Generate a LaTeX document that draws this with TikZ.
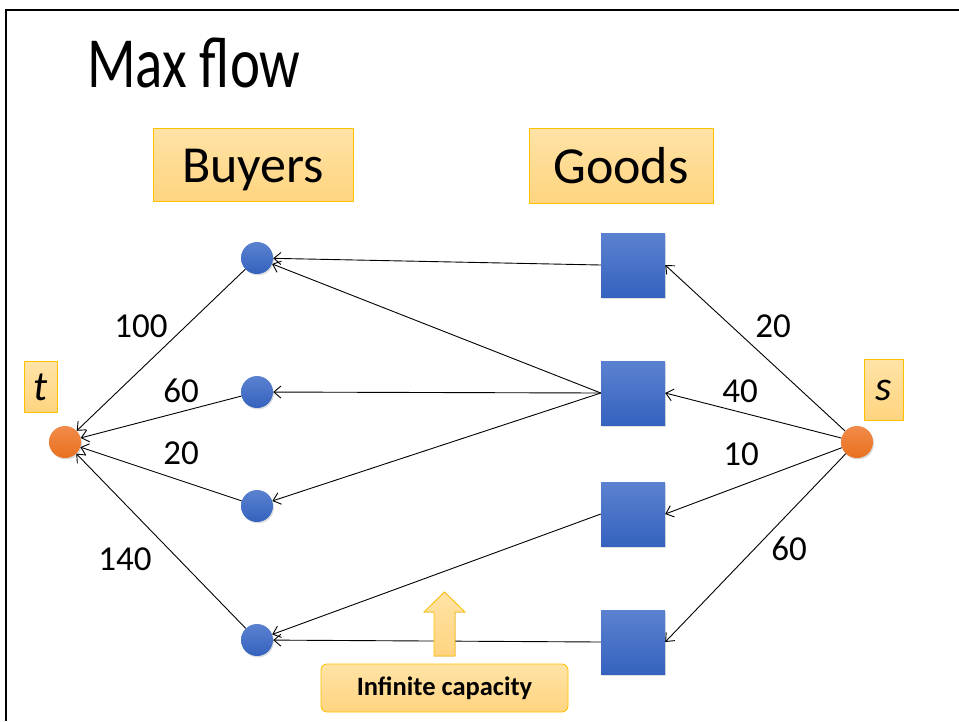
\documentclass[tikz,border=0pt]{standalone}
\usepackage{fontspec}
\setmainfont{Carlito}
\usetikzlibrary{arrows.meta,shadows,shapes.arrows}
\definecolor{boxfillA}{HTML}{FFE3A6}
\definecolor{boxfillB}{HTML}{FFD47F}
\definecolor{boxline}{HTML}{FFC000}
\definecolor{blueA}{HTML}{5B82D0}
\definecolor{blueB}{HTML}{3562BE}
\definecolor{orangeA}{HTML}{F28A4A}
\definecolor{orangeB}{HTML}{E8711F}
\tikzset{
  lbl/.style={draw=boxline, line width=0.8pt, top color=boxfillA, bottom color=boxfillB, inner sep=0pt},
  buyer/.style={circle, minimum size=32pt, inner sep=0pt, top color=blueA, bottom color=blueB,
    drop shadow={opacity=0.25, shadow xshift=1pt, shadow yshift=-1.5pt}},
  good/.style={rectangle, minimum size=64pt, inner sep=0pt, top color=blueA, bottom color=blueB,
    drop shadow={opacity=0.25, shadow xshift=1pt, shadow yshift=-1.5pt}},
  term/.style={circle, minimum size=32pt, inner sep=0pt, top color=orangeA, bottom color=orangeB,
    drop shadow={opacity=0.3, shadow xshift=1pt, shadow yshift=-1.5pt}},
  edge/.style={line width=0.9pt, -{Straight Barb[length=7pt,width=12pt,line width=0.9pt]}},
  num/.style={font=\fontsize{35}{38}\selectfont, inner sep=0pt},
  head/.style={lbl, text height=34pt, text depth=0pt},
}
\begin{document}
\begin{tikzpicture}[x=1pt,y=-1pt]
\useasboundingbox (0,0) rectangle (959,721);
% frame
\draw[line width=2.5pt] (6,721) -- (6,10) -- (960,10);
% title
\node[anchor=west, inner sep=0pt, xscale=0.79] (title) at (87,63) {\fontsize{72}{76}\selectfont Max flow};
% header boxes
\node[head, minimum width=200pt, minimum height=73pt] (buyers) at (253,165) {\fontsize{52}{56}\selectfont Buyers};
\node[head, minimum width=184pt, minimum height=75pt] (goods) at (621,166) {\fontsize{52}{56}\selectfont Goods};
\node[lbl, minimum width=33pt, minimum height=51pt] (tl) at (41,387) {\fontsize{42}{44}\selectfont\itshape t};
\node[lbl, minimum width=39pt, minimum height=61pt] (sl) at (884,390) {\fontsize{42}{44}\selectfont\itshape s};
% nodes
\node[buyer] (b1) at (257,258) {};
\node[buyer] (b2) at (257,392) {};
\node[buyer] (b3) at (257,506) {};
\node[buyer] (b4) at (257,640) {};
\node[good] (g1) at (633,265) {};
\node[good] (g2) at (633,393) {};
\node[good] (g3) at (633,514) {};
\node[good] (g4) at (633,642) {};
\node[term] (t) at (65,442) {};
\node[term] (s) at (857,442) {};
% goods -> buyers
\draw[edge] (g1.west) -- (b1);
\draw[edge] (g2.west) -- (b1);
\draw[edge] (g2.west) -- (b2);
\draw[edge] (g2.west) -- (b3);
\draw[edge] (g3.west) -- (b4);
\draw[edge] (g4.west) -- (b4);
% buyers -> t
\draw[edge] (b1) -- (t);
\draw[edge] (b2) -- (t);
\draw[edge] (b3) -- (t);
\draw[edge] (b4) -- (t);
% s -> goods
\draw[edge] (s) -- (g1.east);
\draw[edge] (s) -- (g2.east);
\draw[edge] (s) -- (g3.east);
\draw[edge] (s) -- (g4.east);
% capacities
\node[num] (c1) at (141,326) {100};
\node[num] (c2) at (181,391) {60};
\node[num] (c3) at (181,453) {20};
\node[num] (c4) at (125,559) {140};
\node[num] (c5) at (773,326) {20};
\node[num] (c6) at (740,391) {40};
\node[num] (c7) at (741,454) {10};
\node[num] (c8) at (789,549) {60};
% infinite capacity callout
\node[lbl, rounded corners=6pt, minimum width=247pt, minimum height=48pt] (inf) at (444.5,688) {\fontsize{26.5}{28}\selectfont\bfseries Infinite capacity};
\fill[top color=boxfillA, bottom color=boxfillB, draw=boxline, line width=0.8pt]
  (434,656) -- (434,612) -- (424,612) -- (444.5,592) -- (465,612) -- (455,612) -- (455,656) -- cycle;
\end{tikzpicture}
\end{document}
